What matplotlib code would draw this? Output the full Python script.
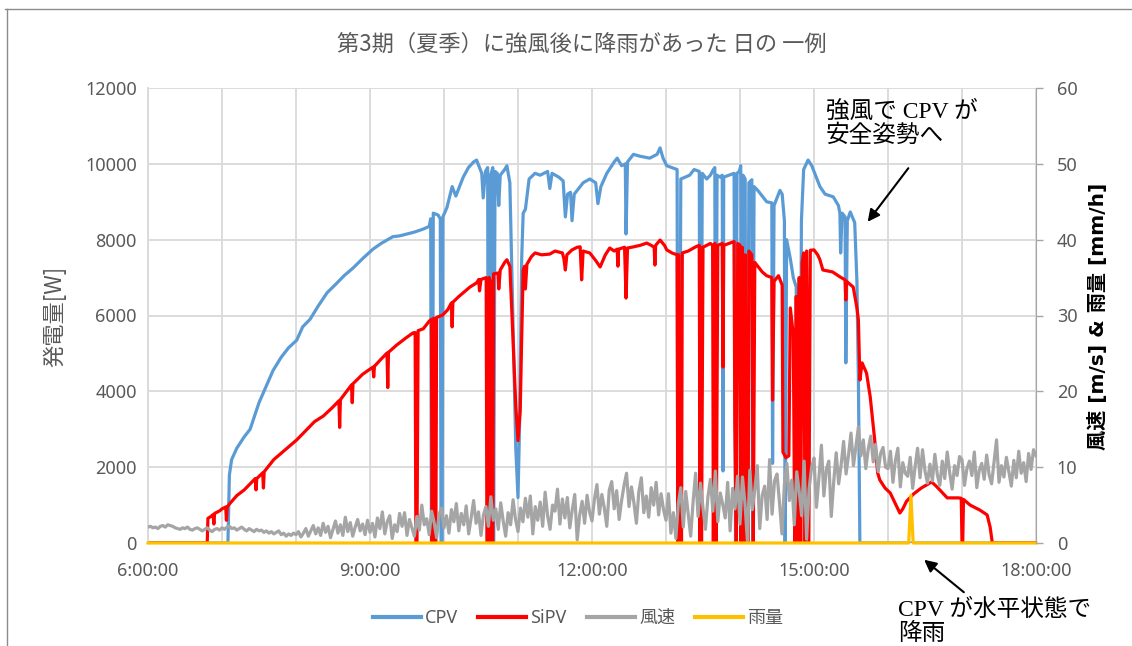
#!/usr/bin/env python
# -*- coding: utf-8 -*-
# CPV / SiPV output with wind speed and rain, one summer day
import numpy as np
from matplotlib import pyplot as plt
from matplotlib import ticker
from matplotlib.lines import Line2D

plt.rcParams['font.family'] = ['Noto Sans', 'Noto Sans CJK JP', 'DejaVu Sans']

#------------------------------------------------------------------------------
# data (time in hours)
#------------------------------------------------------------------------------
cpv_t = [6.0, 7.05, 7.08, 7.10, 7.13, 7.20, 7.30, 7.38, 7.50, 7.60, 7.69, 7.80,
         7.90, 8.01, 8.09, 8.19, 8.30, 8.42, 8.55, 8.65, 8.77, 8.90, 9.04, 9.15,
         9.31, 9.40, 9.50, 9.60, 9.72, 9.80, 9.82, 9.83, 9.845, 9.855, 9.92,
         9.95, 9.96, 9.975, 9.985, 10.04, 10.11, 10.16, 10.26, 10.33, 10.40,
         10.44, 10.51, 10.53, 10.56, 10.59, 10.60, 10.62, 10.63, 10.66, 10.67,
         10.69, 10.72, 10.74, 10.76, 10.82, 10.85, 10.89, 10.93, 10.97, 11.00,
         11.02, 11.05, 11.07, 11.10, 11.15, 11.23, 11.30, 11.40, 11.43, 11.46,
         11.55, 11.61, 11.64, 11.67, 11.71, 11.73, 11.76, 11.82, 11.88, 11.97,
         12.05, 12.08, 12.12, 12.20, 12.30, 12.34, 12.40, 12.45, 12.46, 12.48,
         12.56, 12.65, 12.78, 12.88, 12.92, 12.96, 13.01, 13.08, 13.15, 13.16,
         13.18, 13.20, 13.26, 13.32, 13.38, 13.45, 13.46, 13.47, 13.49, 13.55,
         13.60, 13.64, 13.66, 13.67, 13.69, 13.73, 13.76, 13.77, 13.78, 13.85,
         13.92, 13.94, 13.96, 13.99, 14.01, 14.02, 14.04, 14.07, 14.08, 14.10,
         14.12, 14.16, 14.17, 14.19, 14.24, 14.30, 14.36, 14.43, 14.44, 14.46,
         14.52, 14.54, 14.57, 14.60, 14.61, 14.63, 14.68, 14.72, 14.76, 14.77,
         14.79, 14.81, 14.83, 14.86, 14.92, 14.97, 15.02, 15.08, 15.15, 15.26,
         15.33, 15.35, 15.36, 15.38, 15.42, 15.43, 15.45, 15.49, 15.55, 15.58,
         15.60, 15.62, 18.0]
cpv_w = [0, 0, 0, 1800, 2200, 2500, 2800, 3000, 3700, 4150, 4550, 4900,
         5150, 5350, 5700, 5900, 6250, 6600, 6850, 7050, 7250, 7500, 7750, 7900,
         8080, 8100, 8150, 8200, 8280, 8350, 8550, 0, 0, 8700, 8650,
         8550, 0, 0, 8600, 8850, 9400, 9150, 9650, 9900, 10050,
         10100, 9750, 9100, 9800, 9900, 0, 0, 9700, 9900, 0,
         9800, 9750, 8900, 9700, 9850, 9950, 9500, 6000, 2500, 1200,
         3000, 7500, 8700, 8800, 9600, 9750, 9700, 9800, 9350, 9750,
         9650, 9550, 8600, 9200, 9250, 8500, 9200, 9350, 9500, 9600,
         9500, 8950, 9400, 9750, 10050, 10150, 9950, 10000, 8150, 10050,
         10250, 10200, 10150, 10250, 10420, 10150, 9950, 9900, 9850, 0,
         0, 9600, 9650, 9700, 9850, 9800, 0, 0, 9750, 9600,
         9700, 9850, 9900, 0, 9700, 9650, 9700, 1900, 9650, 9700,
         9750, 0, 9750, 9800, 9950, 0, 9700, 9600, 0, 0,
         9500, 9580, 0, 9400, 9300, 9150, 9000, 8970, 2100, 8900,
         9200, 9300, 9200, 8500, 0, 8000, 7500, 7000, 6750, 0,
         5000, 0, 8500, 9850, 10100, 9950, 9700, 9400, 9200, 9130,
         8900, 8700, 7650, 8700, 8600, 4750, 8500, 8730, 8450, 6900,
         4300, 0, 0]

sipv_t = [6.0, 6.80, 6.81, 6.85, 6.88, 6.89, 6.90, 6.97, 7.00, 7.05, 7.06, 7.07,
          7.11, 7.20, 7.30, 7.40, 7.45, 7.46, 7.47, 7.55, 7.56, 7.57, 7.70, 7.85,
          8.01, 8.15, 8.25, 8.37, 8.48, 8.58, 8.59, 8.60, 8.75, 8.76, 8.77, 8.90,
          9.04, 9.05, 9.06, 9.15, 9.23, 9.24, 9.25, 9.36, 9.48, 9.58, 9.61, 9.62,
          9.635, 9.65, 9.72, 9.80, 9.83, 9.84, 9.86, 9.87, 9.89, 9.90, 9.98,
          10.05, 10.10, 10.11, 10.12, 10.20, 10.26, 10.35, 10.44, 10.47, 10.48,
          10.50, 10.57, 10.58, 10.60, 10.61, 10.63, 10.64, 10.66, 10.67, 10.73,
          10.74, 10.76, 10.82, 10.85, 10.89, 10.93, 10.97, 11.00, 11.03, 11.05,
          11.07, 11.09, 11.10, 11.12, 11.18, 11.23, 11.32, 11.43, 11.50, 11.60,
          11.62, 11.64, 11.66, 11.73, 11.80, 11.84, 11.86, 11.88, 11.97, 12.05,
          12.11, 12.18, 12.24, 12.30, 12.34, 12.35, 12.36, 12.44, 12.46, 12.48,
          12.56, 12.65, 12.74, 12.80, 12.84, 12.85, 12.86, 12.92, 12.98, 13.01,
          13.08, 13.15, 13.16, 13.17, 13.19, 13.21, 13.22, 13.30, 13.40, 13.45,
          13.46, 13.47, 13.48, 13.50, 13.55, 13.60, 13.63, 13.64, 13.66, 13.68,
          13.70, 13.76, 13.77, 13.78, 13.85, 13.92, 13.93, 13.95, 13.97, 14.00,
          14.01, 14.03, 14.05, 14.07, 14.09, 14.11, 14.12, 14.16, 14.18, 14.20,
          14.24, 14.30, 14.36, 14.43, 14.44, 14.46, 14.52, 14.57, 14.58, 14.62,
          14.66, 14.68, 14.72, 14.74, 14.76, 14.78, 14.80, 14.82, 14.84, 14.86,
          14.88, 14.90, 14.93, 14.95, 15.00, 15.05, 15.08, 15.12, 15.25, 15.35,
          15.42, 15.43, 15.44, 15.53, 15.58, 15.60, 15.62, 15.65, 15.71, 15.76,
          15.82, 15.86, 15.89, 15.96, 16.03, 16.12, 16.16, 16.20, 16.25, 16.35,
          16.45, 16.59, 16.65, 16.70, 16.80, 16.95, 16.99, 17.00, 17.01, 17.02,
          17.11, 17.24, 17.34, 17.38, 17.41, 18.0]
sipv_w = [0, 0, 650, 700, 750, 500, 780, 850, 900, 950, 600, 950,
          1050, 1250, 1400, 1600, 1700, 1400, 1700, 1850, 1450, 1880, 2200, 2450,
          2720, 3000, 3200, 3350, 3550, 3750, 3050, 3780, 4170, 3700, 4200, 4450,
          4640, 4380, 4660, 4850, 5010, 4100, 5030, 5220, 5400, 5540, 5550, 0,
          0, 5600, 5650, 5850, 5900, 0, 5930, 0, 0, 5950, 6010,
          6150, 6330, 5700, 6350, 6500, 6600, 6750, 6860, 6950, 6650,
          6950, 7000, 0, 0, 7000, 6900, 0, 0, 7100, 7120,
          6700, 7200, 7400, 7470, 7300, 5500, 3600, 2700, 3500, 5430,
          7200, 7300, 6700, 7350, 7550, 7650, 7600, 7620, 7700, 7650,
          7500, 7200, 7600, 7730, 7800, 7810, 6940, 7700, 7650, 7450,
          7280, 7600, 7780, 7700, 7750, 7300, 7750, 7800, 6460, 7780,
          7810, 7850, 7910, 7850, 7800, 7330, 7850, 7990, 7850, 7730,
          7650, 7600, 0, 7600, 0, 0, 7650, 7700, 7810, 7850,
          0, 7800, 0, 7800, 7850, 7900, 7850, 0, 7900, 0,
          7850, 7900, 4640, 7850, 7900, 7950, 3190, 0, 7900, 7850,
          0, 7800, 0, 7600, 0, 0, 7700, 7600, 0, 7400,
          7300, 7150, 7050, 7000, 3770, 6900, 7050, 6800, 2400, 2250,
          2300, 6200, 5500, 0, 6500, 0, 7000, 0, 7400, 7650,
          0, 7700, 0, 7720, 7730, 7600, 7470, 7200, 7150, 7020,
          6940, 6410, 6900, 6750, 6200, 5880, 4300, 4750, 4480, 3850,
          2720, 1850, 1660, 1450, 1320, 950, 790, 900, 1100, 1300,
          1450, 1610, 1500, 1400, 1190, 1190, 1180, 0, 0, 1150,
          1000, 870, 740, 420, 0, 0]

# wind speed [m/s], one value every 2 minutes from 6:00 to 18:00
wind = [
    2.1, 2.2, 2.0, 2.1, 1.9, 2.2, 2.3, 2.1, 2.4, 2.3, 2.2, 2.0, 1.9, 1.8, 2.0,
    1.9, 2.1, 1.8, 1.7, 1.9, 2.0, 1.8, 1.6, 1.8, 2.0, 1.7, 1.5, 1.8, 1.9, 1.7,
    2.0, 1.8, 2.1, 2.2, 1.9, 2.0, 1.7, 1.9, 2.1, 1.8, 1.6, 1.9, 1.7, 1.5, 1.8,
    1.6, 1.7, 1.4, 1.6, 1.3, 1.5, 1.2, 1.4, 1.6, 1.1, 1.3, 0.9, 1.2, 1.0, 1.3,
    1.1, 1.5, 0.8, 1.3, 1.9, 0.9, 1.6, 2.3, 1.2, 2.0, 1.0, 2.6, 1.4, 2.2, 0.7,
    1.8, 2.9, 1.3, 2.4, 1.0, 3.4, 1.5, 2.7, 0.9, 2.1, 3.1, 1.6, 2.5, 1.1, 3.0,
    1.4, 2.6, 0.8, 3.3, 1.9, 4.1, 1.2, 2.8, 3.6, 0.6, 2.4, 1.5, 3.9, 2.2, 4.0,
    1.0, 3.1, 2.0, 0.9, 3.5, 1.7, 5.0, 2.4, 3.2, 1.1, 4.2, 2.7, 0.7, 3.8, 4.6,
    2.0, 3.6, 1.3, 4.4, 2.8, 5.2, 1.6, 3.9, 2.4, 4.9, 1.2, 3.3, 5.6, 2.6, 4.1,
    1.0, 3.7, 4.8, 2.2, 6.1, 3.0, 4.5, 1.8, 5.3, 2.9, 0.9, 4.0, 2.4, 5.7, 3.1,
    1.5, 4.6, 2.8, 5.9, 3.4, 6.2, 1.2, 4.8, 3.0, 5.4, 2.2, 6.7, 3.6, 1.8, 5.0,
    4.2, 7.1, 2.5, 5.8, 3.3, 6.0, 2.0, 4.4, 6.4, 0.4, 3.7, 5.5, 2.6, 6.3, 4.1,
    2.9, 5.8, 7.7, 3.8, 6.4, 4.6, 2.2, 7.0, 8.1, 4.5, 6.9, 3.1, 5.6, 7.6, 9.2,
    4.8, 7.4, 5.3, 2.6, 6.8, 8.6, 4.0, 6.2, 3.4, 7.3, 5.0, 8.0, 3.7, 6.5, 4.4,
    3.0, 6.5, 1.3, 4.0, 0.6, 5.2, 7.3, 2.1, 6.8, 3.9, 0.9, 5.5, 9.2, 3.5, 7.9,
    4.6, 1.8, 6.1, 8.4, 4.2, 9.5, 2.8, 6.6, 5.1, 3.3, 8.0, 1.6, 7.2, 4.5, 8.8,
    2.5, 8.7, 5.3, 0.3, 9.6, 4.4, 7.0, 10.2, 1.9, 6.3, 7.5, 3.1, 11.0, 3.8, 8.2,
    9.1, 5.4, 1.2, 7.7, 10.5, 5.6, 8.3, 2.4, 9.4, 6.8, 3.6, 10.8, 0.5, 7.1, 9.9,
    11.2, 4.7, 8.6, 12.9, 6.2, 9.7, 10.8, 3.5, 8.1, 11.9, 7.8, 10.3, 13.4, 9.1, 11.6,
    14.5, 10.2, 12.8, 15.3, 11.5, 13.6, 9.8, 12.4, 14.1, 10.7, 13.0, 9.4, 11.8, 12.6, 10.0,
    9.8, 12.1, 8.0, 10.9, 12.5, 7.4, 10.6, 9.2, 8.8, 11.3, 7.2, 10.1, 12.5, 8.6, 12.3,
    9.5, 7.9, 10.4, 8.2, 11.7, 9.0, 7.6, 10.8, 8.5, 12.0, 9.3, 7.1, 10.2, 8.9, 11.4,
    11.0, 7.6, 9.8, 10.8, 8.9, 12.0, 7.3, 9.6, 10.5, 8.4, 11.6, 9.0, 7.8, 10.7, 13.6,
    8.0, 10.2, 8.7, 11.3, 9.4, 7.5, 10.9, 8.6, 12.1, 9.2, 10.6, 8.1, 11.8, 9.7, 12.3,
    11.5]
wind_t = 6.0 + np.arange(len(wind)) * 2.0 / 60.0

rain_t = [6.0, 16.28, 16.31, 16.34, 18.0]
rain_v = [0, 0, 6.3, 0, 0]

labels = ['CPV', 'SiPV', '風速', '雨量']
colors = ['#5B9BD5', '#FF0000', '#A5A5A5', '#FFC000']

#------------------------------------------------------------------------------
# figure
#------------------------------------------------------------------------------
W, H = 1132, 646
fig = plt.figure(figsize=(W / 100, H / 100), dpi=100)
ax = fig.add_axes([148 / W, 1 - 543 / H, (1036 - 148) / W, (543 - 88) / H])
ax2 = ax.twinx()

grey_txt = '#595959'
grid_c = '#D9D9D9'
lw = 2.3

ax.plot(cpv_t, cpv_w, color=colors[0], lw=lw, label=labels[0])
ax.plot(sipv_t, sipv_w, color=colors[1], lw=lw, label=labels[1])
ax2.plot(wind_t, wind, color=colors[2], lw=lw, label=labels[2])
ax2.plot(rain_t, rain_v, color=colors[3], lw=lw, label=labels[3], clip_on=False)

ax.set_xlim(6, 18)
ax.set_ylim(0, 12000)
ax2.set_ylim(0, 60)

ax.xaxis.set_major_locator(ticker.MultipleLocator(1))
ax.xaxis.set_major_formatter(ticker.FuncFormatter(
    lambda v, p: '%d:00:00' % int(round(v)) if int(round(v)) % 3 == 0 else ''))
ax.yaxis.set_major_locator(ticker.MultipleLocator(2000))
ax2.yaxis.set_major_locator(ticker.MultipleLocator(10))

ax.grid(True, color=grid_c, lw=1.3)
ax.set_axisbelow(True)
ax.tick_params(axis='both', length=0, labelsize=13, colors=grey_txt, pad=8)
ax.tick_params(axis='x', pad=14)
ax2.tick_params(axis='y', length=5, width=1, color='#A6A6A6', labelsize=13,
                labelcolor=grey_txt, pad=10)

for s in ['top', 'bottom']:
    ax.spines[s].set_visible(False)
    ax2.spines[s].set_visible(False)
ax.spines['left'].set_color(grid_c)
ax.spines['left'].set_linewidth(1.3)
ax.spines['right'].set_visible(False)
ax2.spines['left'].set_visible(False)
ax2.spines['right'].set_color('#A6A6A6')

# titles and axis labels
fig.text(582 / W, 1 - 44 / H, '第3期（夏季）に強風後に降雨があった 日の 一例',
         ha='center', va='center', fontsize=16, color=grey_txt,
         family=['Noto Sans CJK JP'])
fig.text(55 / W, 1 - 316 / H, '発電量[W]', rotation=90, ha='center', va='center',
         fontsize=16, color=grey_txt, family=['Noto Sans CJK JP'])
fig.text(1098 / W, 1 - 316 / H, '風速 [m/s] & 雨量 [mm/h]', rotation=90,
         ha='center', va='center', fontsize=14.5, color='black', fontweight='bold',
         family=['DejaVu Sans', 'Noto Sans CJK JP'])

# annotations
serif = ['Liberation Serif', 'Noto Sans CJK JP']
fig.text(826 / W, 1 - 124 / H, '強風で CPV が\n安全姿勢へ', ha='left', va='center',
         fontsize=17, family=serif, linespacing=1.1)
ax.annotate('', xy=(866 / W, 1 - 224 / H), xytext=(910 / W, 1 - 166 / H),
            xycoords='figure fraction', textcoords='figure fraction',
            arrowprops=dict(arrowstyle='-|>', color='black', lw=1.5,
                            mutation_scale=18))
fig.text(898 / W, 1 - 622 / H, 'CPV が水平状態で\n降雨', ha='left', va='center',
         fontsize=17, family=serif, linespacing=1.1)
ax.annotate('', xy=(922 / W, 1 - 558 / H), xytext=(966 / W, 1 - 594 / H),
            xycoords='figure fraction', textcoords='figure fraction',
            arrowprops=dict(arrowstyle='-|>', color='black', lw=1.5,
                            mutation_scale=18))

# legend
handles = [Line2D([], [], color=c, lw=3) for c in colors]
leg = fig.legend(handles, labels, loc='center', bbox_to_anchor=(578 / W, 1 - 618 / H),
                 ncol=4, frameon=False, fontsize=13, handlelength=2.65,
                 handletextpad=0.25, columnspacing=1.1)
for t in leg.get_texts():
    t.set_color(grey_txt)

# chart frame (top and left edge visible)
fig.add_artist(Line2D([5 / W, 1], [1 - 9 / H, 1 - 9 / H], color='#8C8C8C', lw=1))
fig.add_artist(Line2D([7 / W, 7 / W], [0, 1 - 9 / H], color='#8C8C8C', lw=1))

fig.savefig('out.png', dpi=100)
